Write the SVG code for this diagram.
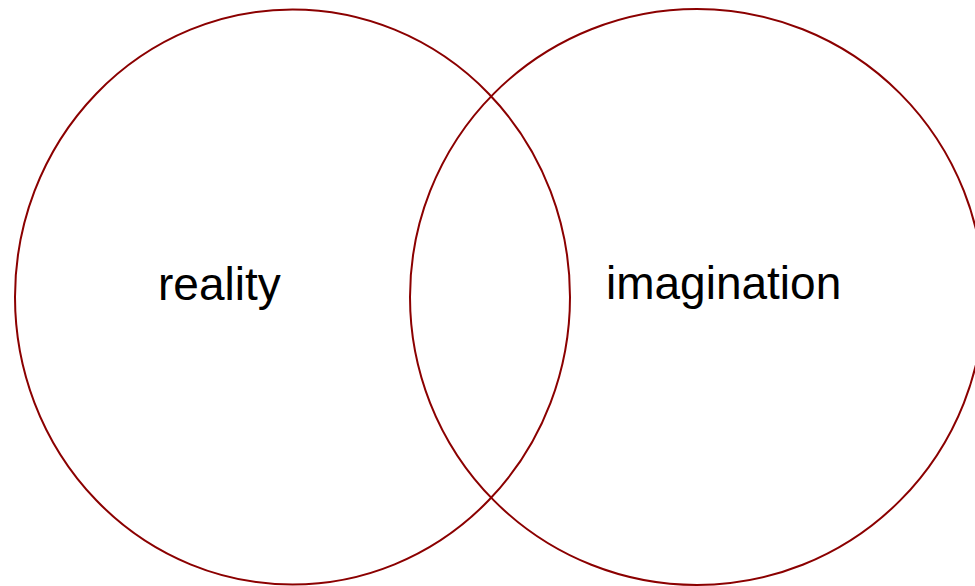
<svg xmlns="http://www.w3.org/2000/svg" width="975" height="586" viewBox="0 0 975 586">
<style>
.set{fill:none;stroke:#8b0000;stroke-width:2}
.lbl{font-family:"Liberation Sans",Arial,sans-serif;font-size:46px;fill:#000}
</style>
<rect width="975" height="586" fill="#fff"/>
<g id="reality">
<ellipse class="set" cx="292.5" cy="297" rx="277.5" ry="287.5"/>
<text class="lbl" x="158" y="300">reality</text>
</g>
<g id="imagination">
<ellipse class="set" cx="697" cy="297" rx="287" ry="288"/>
<text class="lbl" x="606" y="299">imagination</text>
</g>
<g id="connectors"></g>
</svg>
